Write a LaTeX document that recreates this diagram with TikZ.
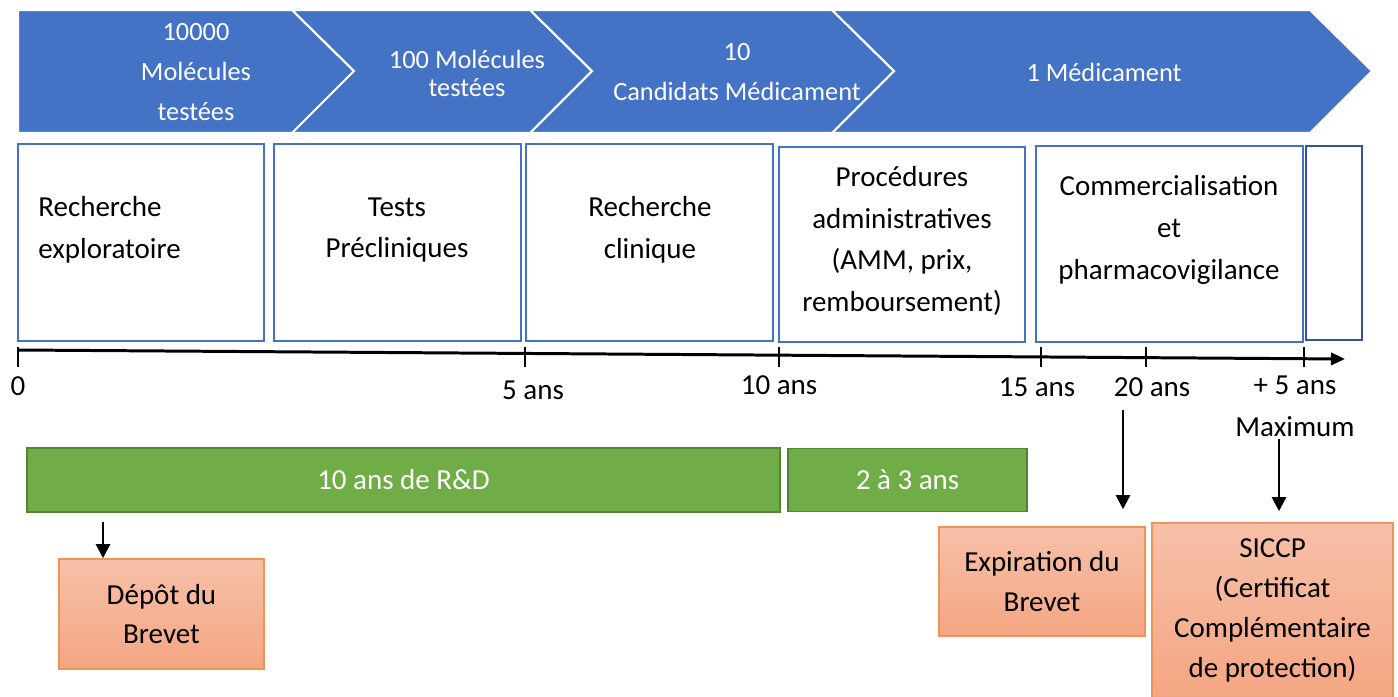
\documentclass[tikz,border=0pt]{standalone}
\usepackage{fontspec}
\setmainfont{Carlito}
\usepackage{tikz}
\usetikzlibrary{arrows.meta,positioning}
\definecolor{chevblue}{RGB}{68,114,196}
\definecolor{darkblue}{RGB}{47,85,151}
\definecolor{rdgreen}{RGB}{112,173,71}
\definecolor{rdgreenD}{RGB}{84,130,53}
\definecolor{patTop}{RGB}{247,192,168}
\definecolor{patBot}{RGB}{244,166,131}
\definecolor{patLine}{RGB}{241,146,89}
\tikzset{
  wh/.style 2 args={minimum width=#1*0.02cm, minimum height=#2*0.02cm},
  phase/.style={rectangle, draw=chevblue, line width=1.4pt, fill=white, inner sep=0pt},
  phtxt/.style={font=\fontsize{16.5}{23.8}\selectfont, align=center, inner sep=0pt},
  chev/.style={fill=chevblue, draw=white, line width=1.2pt, line join=miter},
  chevtxt/.style={font=\fontsize{15}{22.7}\selectfont, text=white, align=center, inner sep=0pt},
  rdbar/.style={rectangle, draw=rdgreenD, fill=rdgreen, line width=1pt, inner sep=0pt,
                text=white, font=\fontsize{16.5}{20}\selectfont},
  patent/.style={rectangle, draw=patLine, line width=0.9pt, top color=patTop, bottom color=patBot,
                 inner sep=0pt, align=center, font=\fontsize{16.5}{22.7}\selectfont},
  taxis/.style={line width=1.7pt, -{Triangle[length=8pt,width=7pt]}},
  axtick/.style={line width=0.7pt},
  tlabel/.style={font=\fontsize{16.5}{20}\selectfont, inner sep=0pt},
  patarrow/.style={line width=1.3pt, -{Triangle[length=8pt,width=8pt]}},
}

\begin{document}
\begin{tikzpicture}[x=0.02cm, y=-0.02cm]
  \fill[white] (0,0) rectangle (1398,696);
  \useasboundingbox (0,0) rectangle (1398,696);
  % Chevrons (molecules)
  \draw[chev] (18,10) -- (292,10) -- (354,71) -- (292,133) -- (18,133) -- cycle;
  \foreach \l/\r in {292/530, 530/832, 832/1310}{
    \draw[chev] (\l,10) -- (\r,10) -- ({\r+62},71) -- (\r,133) -- (\l,133) -- ({\l+62},71) -- cycle;
  }
  \node[chevtxt] (c1t) at (196,72) {10000\\Molécules\\testées};
  \node[chevtxt, font=\fontsize{15}{15.9}\selectfont] (c2t) at (467,73) {100 Molécules\\testées};
  \node[chevtxt] (c3t) at (737,72) {10\\Candidats Médicament};
  \node[chevtxt] (c4t) at (1104,72) {1 Médicament};
  % Phases
  \node[phase, wh={246}{197}] (p1) at (141,242.5) {};
  \node[phase, wh={247}{197}] (p2) at (397.5,242.5) {};
  \node[phase, wh={247}{197}] (p3) at (649.5,242.5) {};
  \node[phase, wh={246}{195}] (p4) at (902,244.5) {};
  \node[phase, wh={267}{196}] (p5) at (1169.5,244) {};
  \node[phase, draw=darkblue, wh={56}{194}] (p6) at (1334,243) {};
  \node[phtxt, align=left, anchor=west] (p1t) at (38,230) {Recherche\\exploratoire};
  \node[phtxt] (p2t) at (397,230) {Tests\\Précliniques};
  \node[phtxt] (p3t) at (650,230) {Recherche\\clinique};
  \node[phtxt] (p4t) at (902,241) {Procédures\\administratives\\(AMM, prix,\\remboursement)};
  \node[phtxt] (p5t) at (1169,230) {Commercialisation\\et\\pharmacovigilance};
  % Time axis
  \coordinate (o) at (18,350);
  \coordinate (tend) at (1345,359);
  \draw[taxis] (o) -- (tend);
  \foreach \x/\lx/\ly/\lab [count=\i] in {18/18/386/0, 525/533/390/5 ans, 779/779/385/10 ans,
      1041/1037/387/15 ans, 1146/1152/387/20 ans, 1304/1295/385/+ 5 ans}{
    \draw[axtick] (\x,347) -- (\x,367);
    \node[tlabel] (tl\i) at (\lx,\ly) {\lab};
  }
  \node[tlabel] (tmax) at (1295,427) {Maximum};
  % Durations
  \node[rdbar, wh={753}{64}] (rd) at (403.5,480) {10 ans de R\&D};
  \node[rdbar, wh={239}{63}] (amm) at (907.5,480) {2 à 3 ans};
  % Patent
  \node[patent, wh={205}{110}] (depot) at (161.5,614) {Dépôt du\\Brevet};
  \node[patent, wh={206}{109}] (expi) at (1042,581.5) {Expiration du\\Brevet};
  \node[patent, wh={241}{175}] (siccp) at (1272.5,610.5) {SICCP\\(Certificat\\Complémentaire\\de protection)};
  \coordinate (depsrc) at (103,522);
  \coordinate (expsrc) at (1123,410);
  \coordinate (sicsrc) at (1279,439);
  \draw[patarrow] (depsrc) -- (depsrc |- depot.north);
  \draw[patarrow, shorten >=0.34cm] (expsrc) -- (expsrc |- expi.north);
  \draw[patarrow, shorten >=0.22cm] (sicsrc) -- (sicsrc |- siccp.north);
\end{tikzpicture}
\end{document}
